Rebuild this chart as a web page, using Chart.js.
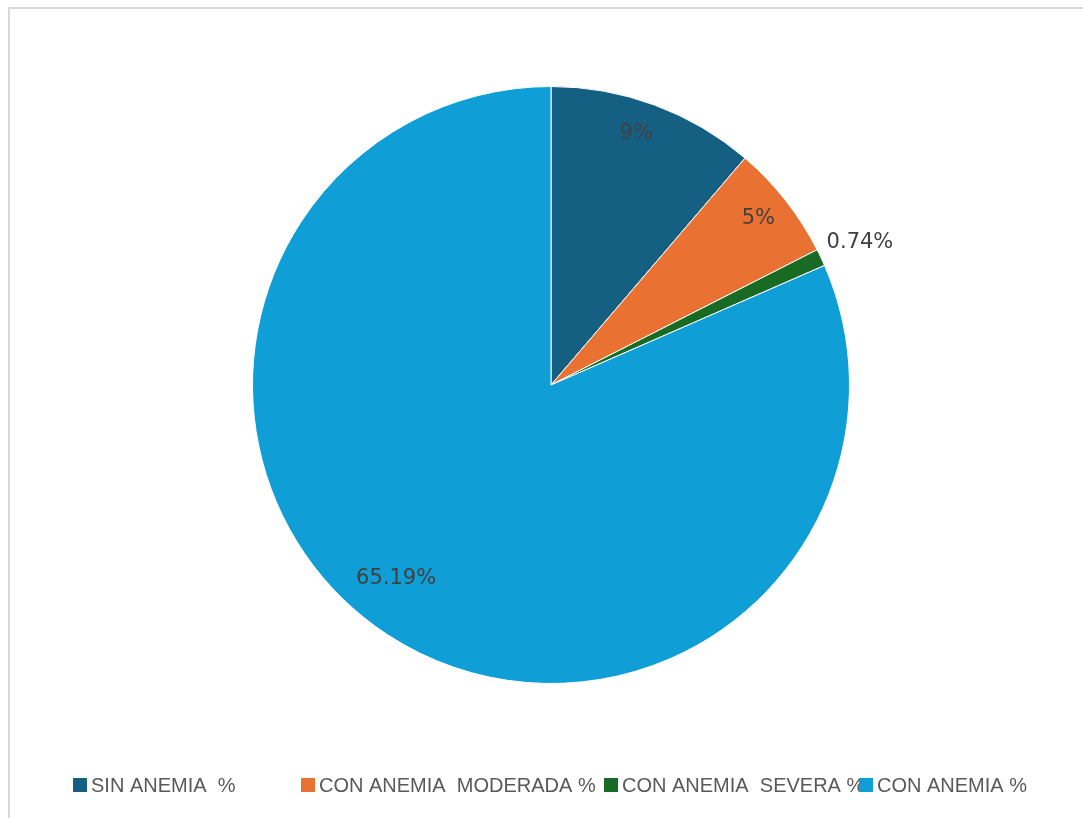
<!DOCTYPE html>
<html>
<head>
<meta charset="utf-8">
<script src="https://cdn.jsdelivr.net/npm/chart.js@4/dist/chart.umd.min.js"></script>
<style>
  body { margin: 0; background: #fff; }
  #wrap { position: relative; width: 1083px; height: 818px; overflow: hidden; }
  #frame {
    position: absolute; left: 8px; top: 7px; width: 1100px; height: 840px;
    border-top: 2px solid #d9d9d9; border-left: 2px solid #d9d9d9;
  }
  canvas { position: absolute; left: 0; top: 0; }
</style>
</head>
<body>
<div id="wrap">
  <div id="frame"></div>
  <canvas id="pieChart" width="1083" height="818"></canvas>
</div>
<script>
var categories = ["SIN ANEMIA  %", "CON ANEMIA  MODERADA %", "CON ANEMIA  SEVERA %", "CON ANEMIA %"];
var values = [9, 5, 0.74, 65.19];
var valueLabels = ["9%", "5%", "0.74%", "65.19%"];
var colors = ["#156082", "#E97132", "#196B24", "#0F9ED5"];

// where each value label sits, as a fraction of the radius, plus a small angle nudge (deg)
var labelRadius = [0.89, 0.89, 1.14, 0.83];
var labelNudge = [-1.5, -0.5, 0.5, 5.5];
// left edge of each legend entry
var legendX = [73, 301, 604, 859];

var sliceLabels = {
  id: "sliceLabels",
  afterDatasetsDraw: function (chart) {
    var ctx = chart.ctx;
    var arcs = chart.getDatasetMeta(0).data;
    ctx.save();
    ctx.font = "21px 'DejaVu Sans'";
    ctx.fillStyle = "#404040";
    ctx.textAlign = "center";
    ctx.textBaseline = "middle";
    arcs.forEach(function (arc, i) {
      var p = arc.getProps(["x", "y", "startAngle", "endAngle", "outerRadius"], true);
      var mid = (p.startAngle + p.endAngle) / 2 + labelNudge[i] * Math.PI / 180;
      var r = p.outerRadius * labelRadius[i];
      ctx.fillText(valueLabels[i], p.x + Math.cos(mid) * r, p.y + Math.sin(mid) * r);
    });
    ctx.restore();
  }
};

var bottomLegend = {
  id: "bottomLegend",
  afterDraw: function (chart) {
    var ctx = chart.ctx;
    var y = 785;
    ctx.save();
    ctx.font = "20px 'Liberation Sans', sans-serif";
    ctx.textBaseline = "middle";
    categories.forEach(function (name, i) {
      ctx.fillStyle = colors[i];
      ctx.fillRect(legendX[i], y - 7, 14, 14);
      ctx.fillStyle = "#595959";
      ctx.fillText(name, legendX[i] + 18, y + 1);
    });
    ctx.restore();
  }
};

var ctx = document.getElementById("pieChart").getContext("2d");

new Chart(ctx, {
  type: "pie",
  data: {
    labels: categories,
    datasets: [
      {
        data: values,
        backgroundColor: colors,
        borderColor: "#ffffff",
        borderWidth: 1
      }
    ]
  },
  options: {
    responsive: false,
    animation: false,
    layout: {
      padding: { left: 19, right: 0, top: 86, bottom: 134 }
    },
    plugins: {
      legend: { display: false },
      tooltip: { enabled: false }
    }
  },
  plugins: [sliceLabels, bottomLegend]
});
</script>
</body>
</html>
